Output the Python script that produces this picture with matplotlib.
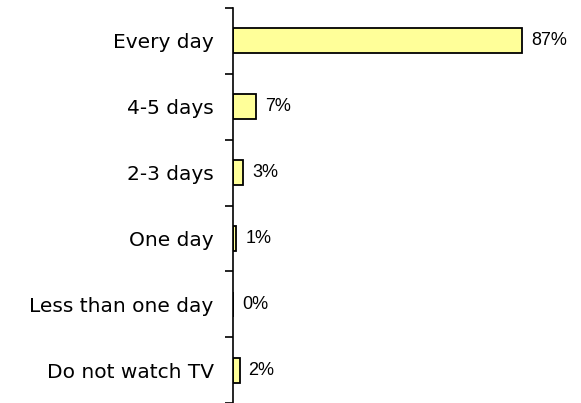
import matplotlib
matplotlib.use('Agg')
import matplotlib.pyplot as plt
import numpy as np

categorias = ["Every day", "4-5 days", "2-3 days", "One day", "Less than one day", "Do not watch TV"]
valores = [87, 7, 3, 1, 0, 2]

plt.rcParams['font.family'] = ['Liberation Sans', 'DejaVu Sans']

fig = plt.figure(figsize=(5.81, 4.03), dpi=100)
ax = fig.add_axes([233 / 581, 0.0, 332 / 581, 1 - 8 / 403])

y = np.arange(len(categorias))
ax.barh(y, valores, height=0.38, color='#FFFF99', edgecolor='black', linewidth=1.3)

for yi, v in zip(y, valores):
    ax.text(v + 2.7, yi, f"{v}%", va='center', ha='left', fontsize=13)

ax.set_xlim(0, 100)
ax.set_ylim(len(categorias) - 0.5, -0.5)

# limites entre categorias com tracos, rotulos no centro
ax.set_yticks(np.arange(len(categorias) + 1) - 0.5)
ax.set_yticklabels([])
ax.set_yticks(y, minor=True)
ax.set_yticklabels(categorias, minor=True, fontsize=14.5, family='DejaVu Sans')
ax.tick_params(axis='y', which='major', direction='out', length=6, width=1.2)
ax.tick_params(axis='y', which='minor', length=0, pad=14)

ax.set_xticks([])
for lado in ['top', 'right', 'bottom']:
    ax.spines[lado].set_visible(False)
ax.spines['left'].set_linewidth(1.2)

fig.savefig('out.png', dpi=100)
